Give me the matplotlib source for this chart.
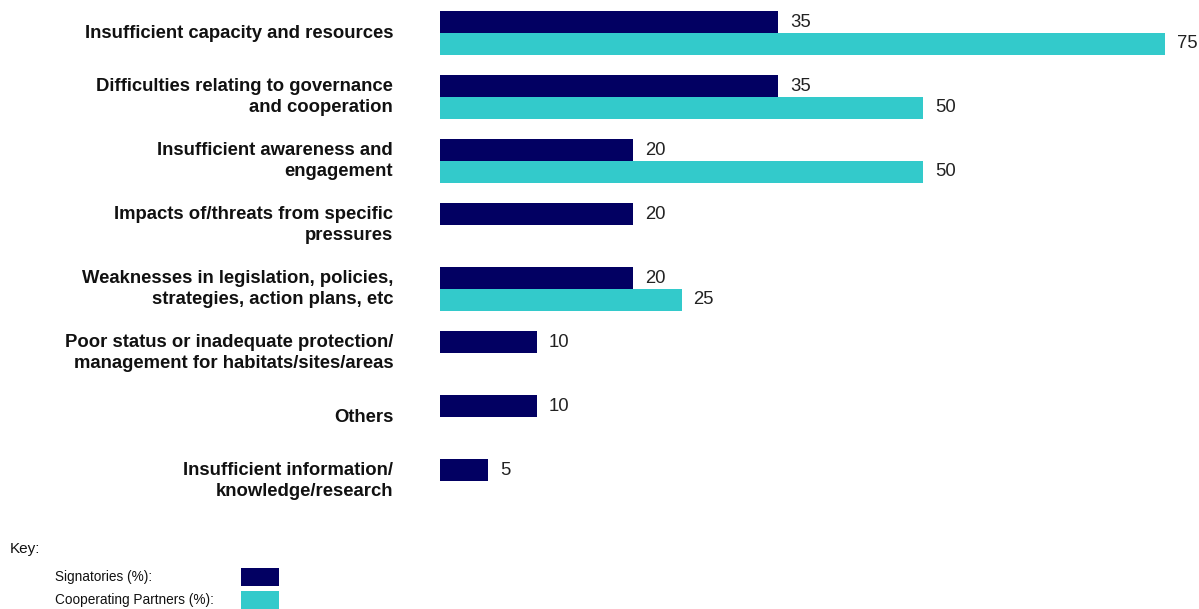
import matplotlib
matplotlib.use("Agg")
import matplotlib.pyplot as plt
from matplotlib.patches import Rectangle

plt.rcParams['font.family'] = ['Liberation Sans', 'DejaVu Sans']

# Challenges reported, share of respondents (%)
categories = [
    "Insufficient capacity and resources",
    "Difficulties relating to governance\nand cooperation",
    "Insufficient awareness and\nengagement",
    "Impacts of/threats from specific\npressures",
    "Weaknesses in legislation, policies,\nstrategies, action plans, etc",
    "Poor status or inadequate protection/\nmanagement for habitats/sites/areas",
    "Others",
    "Insufficient information/\nknowledge/research",
]
signatories = [35, 35, 20, 20, 20, 10, 10, 5]
partners = [75, 50, 50, None, 25, None, None, None]

series_names = ["Signatories (%):", "Cooperating Partners (%):"]
NAVY = "#020062"
CYAN = "#33CACB"

W, H = 1199, 609
fig = plt.figure(figsize=(W / 100, H / 100), dpi=100)

# Bar area in pixel geometry
left_px, top_px, width_px, height_px = 440, 1, 740, 512
ax = fig.add_axes([left_px / W, 1 - (top_px + height_px) / H, width_px / W, height_px / H])
ax.set_xlim(0, width_px / 9.66)
ax.set_ylim(len(categories) - 0.5, -0.5)
ax.axis("off")

bh = 0.336
ys = list(range(len(categories)))
for y, s, p in zip(ys, signatories, partners):
    ax.barh(y - bh / 2, s, height=bh, color=NAVY, edgecolor="none")
    ax.text(s + 1.25, y - bh / 2, f"{s}", va="center", ha="left", fontsize=13.3, color="#222222")
    if p is not None:
        ax.barh(y + bh / 2, p, height=bh, color=CYAN, edgecolor="none")
        ax.text(p + 1.25, y + bh / 2, f"{p}", va="center", ha="left", fontsize=13.3,
                color="#222222", clip_on=False)

# Category labels, right-aligned beside the bars
for y, label in zip(ys, categories):
    ax.text(-4.85, y, label, ha="right", va="center", fontsize=13.3, fontweight="bold",
            color="#111111", linespacing=1.3)

# Key
fig.text(10 / W, 1 - 549 / H, "Key:", ha="left", va="center", fontsize=11, color="#111111")
key_rows = [(577, NAVY), (600, CYAN)]
for (yp, col), name in zip(key_rows, series_names):
    fig.text(55 / W, 1 - yp / H, name, ha="left", va="center", fontsize=9.8, color="#111111")
    fig.patches.append(Rectangle((241 / W, 1 - (yp + 9) / H), 38 / W, 18 / H,
                                 transform=fig.transFigure, facecolor=col, edgecolor="none"))

fig.savefig("out.png", dpi=100, facecolor="white")
